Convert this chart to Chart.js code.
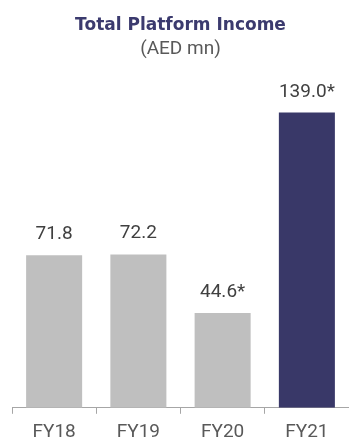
<!DOCTYPE html>
<html>
<head>
<meta charset="utf-8">
<script src="https://cdn.jsdelivr.net/npm/chart.js@4"></script>
<style>
html,body{margin:0;padding:0;background:#fff;}
#wrap{width:349px;height:438px;}
</style>
</head>
<body>
<div id="wrap"><canvas id="c" width="349" height="438"></canvas></div>
<script>
const categories = ["FY18", "FY19", "FY20", "FY21"];
const values = [71.8, 72.2, 44.6, 139.0];
const valueLabels = ["71.8", "72.2", "44.6*", "139.0*"];
const barColors = ["#bfbfbf", "#bfbfbf", "#bfbfbf", "#393868"];
const titleText = "Total Platform Income";
const subtitleText = "(AED mn)";

const valueLabelPlugin = {
  id: "valueLabels",
  afterDatasetsDraw(chart) {
    const ctx = chart.ctx;
    const meta = chart.getDatasetMeta(0);
    ctx.save();
    ctx.font = "19px Roboto, 'Liberation Sans', sans-serif";
    ctx.fillStyle = "#404040";
    ctx.textAlign = "center";
    ctx.textBaseline = "alphabetic";
    meta.data.forEach((bar, i) => {
      ctx.fillText(valueLabels[i], bar.x, bar.y - 16);
    });
    ctx.restore();
  }
};

new Chart(document.getElementById("c"), {
  type: "bar",
  data: {
    labels: categories,
    datasets: [{
      data: values,
      backgroundColor: barColors,
      borderWidth: 0,
      categoryPercentage: 1.0,
      barPercentage: 0.665
    }]
  },
  options: {
    responsive: false,
    animation: false,
    layout: { padding: { left: 12, right: 0, top: 15, bottom: -13 } },
    plugins: {
      legend: { display: false },
      tooltip: { enabled: false },
      title: {
        display: true,
        text: titleText,
        color: "#3b3a6e",
        font: { family: "'DejaVu Sans', Verdana, sans-serif", size: 17, weight: "bold" },
        padding: { top: 0, bottom: 2 }
      },
      subtitle: {
        display: true,
        text: subtitleText,
        color: "#595959",
        font: { family: "Roboto, 'Liberation Sans', sans-serif", size: 19 },
        padding: { top: 0, bottom: 29 }
      }
    },
    scales: {
      x: {
        grid: { offset: true, drawOnChartArea: false, drawTicks: true, tickLength: 6, color: "#a6a6a6" },
        border: { display: true, color: "#a6a6a6" },
        ticks: { color: "#595959", font: { family: "Roboto, 'Liberation Sans', sans-serif", size: 19, lineHeight: 0.8 }, padding: 11 }
      },
      y: {
        display: false,
        min: 0,
        max: 150
      }
    }
  },
  plugins: [valueLabelPlugin]
});
</script>
</body>
</html>
